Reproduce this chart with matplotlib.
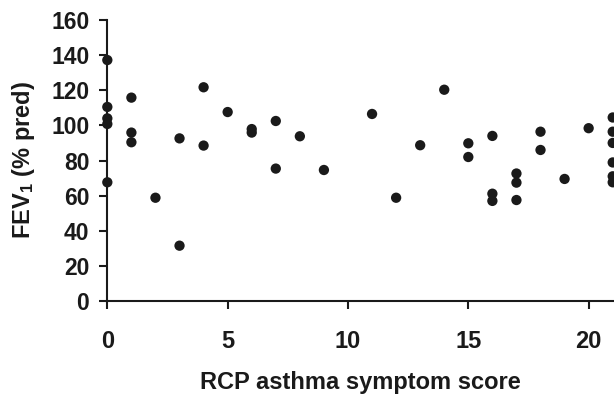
import numpy as np
import matplotlib
matplotlib.use("Agg")
import matplotlib.pyplot as plt

plt.rcParams['font.family'] = ['Liberation Sans', 'DejaVu Sans']
plt.rcParams['font.weight'] = 'bold'
plt.rcParams['mathtext.fontset'] = 'custom'
plt.rcParams['mathtext.rm'] = 'Liberation Sans:bold'
plt.rcParams['mathtext.bf'] = 'Liberation Sans:bold'
plt.rcParams['mathtext.default'] = 'rm'

# symptom score vs FEV1 (% predicted)
score = [0, 0, 0, 0, 0,
         1, 1, 1,
         2,
         3, 3,
         4, 4,
         5,
         6, 6,
         7, 7,
         8,
         9,
         11,
         12,
         13,
         14,
         15, 15,
         16, 16, 16,
         17, 17, 17,
         18, 18,
         19,
         20,
         21, 21, 21, 21, 21, 21]
fev1 = [137.2, 110.5, 104, 100.8, 67.6,
        115.8, 95.9, 90.4,
        58.8,
        92.6, 31.5,
        121.7, 88.5,
        107.6,
        97.9, 95.9,
        102.5, 75.4,
        93.8,
        74.6,
        106.5,
        58.8,
        88.7,
        120.3,
        89.8, 82.0,
        94.0, 61.1, 57.0,
        72.6, 67.4, 57.5,
        96.4, 86.0,
        69.5,
        98.4,
        104.5, 96.4, 90.0, 78.9, 71.0, 67.6]

yticks = [0, 20, 40, 60, 80, 100, 120, 140, 160]
xticks = [0, 5, 10, 15, 20]

fig = plt.figure(figsize=(6.14, 3.97), dpi=100)
ax = fig.add_axes([0.1748, 0.2418, 0.8231, 0.7078])

ax.scatter(score, fev1, s=55, color='#1a1a1a', edgecolors='none',
           zorder=3, clip_on=False)

ax.set_xlim(0, 21)
ax.set_ylim(0, 160)
ax.set_xticks(xticks)
ax.set_yticks(yticks)

for side in ['top', 'right']:
    ax.spines[side].set_visible(False)
for side in ['left', 'bottom']:
    ax.spines[side].set_linewidth(1.5)
    ax.spines[side].set_color('#1a1a1a')

ax.tick_params(axis='y', direction='out', length=6, width=1.5,
               pad=7, labelsize=16.5, colors='#1a1a1a')
ax.tick_params(axis='x', direction='out', length=6, width=1.5,
               pad=15, labelsize=17, colors='#1a1a1a')

ax.set_xlabel('RCP asthma symptom score', fontsize=17, fontweight='bold',
              color='#1a1a1a', labelpad=13)
ax.set_ylabel(r'FEV$_{1}$ (% pred)', fontsize=17, fontweight='bold',
              color='#1a1a1a', labelpad=10)

fig.savefig('out.png', dpi=100)
